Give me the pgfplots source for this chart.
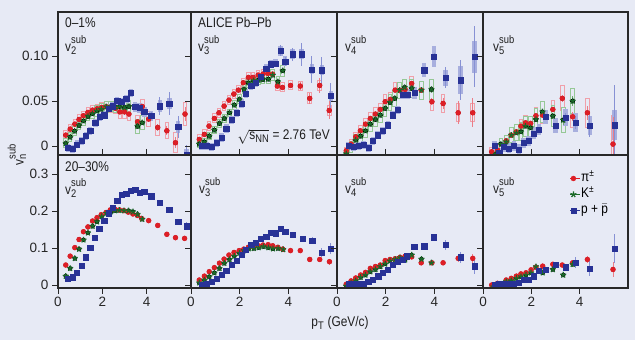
\documentclass[border=0pt]{standalone}
\usepackage{fontspec}
\setmainfont{Liberation Sans}[FakeStretch=0.85]
\newfontfamily\tickfont{Liberation Sans}
\usepackage{pgfplots}
\usepackage{pgfplotstable}
\pgfplotsset{compat=1.18}

\definecolor{bg}{RGB}{231,234,245}
\definecolor{framec}{RGB}{40,40,40}
\definecolor{pired}{RGB}{222,30,38}
\definecolor{kgreen}{RGB}{25,105,40}
\definecolor{pblue}{RGB}{40,50,150}
\definecolor{pisys}{RGB}{240,160,170}
\definecolor{ksys}{RGB}{150,200,150}
\definecolor{psys}{RGB}{168,175,222}
\definecolor{pistat}{RGB}{235,125,135}
\definecolor{kstat}{RGB}{110,170,110}
\definecolor{pstat}{RGB}{135,145,212}

% ---------- top row (0-1%) : x y stat sys ----------
\pgfplotstableread{
x y e s
0.35 0.0122 0.0005 0.003
0.55 0.0189 0.0005 0.003
0.76 0.0244 0.0005 0.003
0.95 0.0296 0.0005 0.003
1.15 0.0337 0.0005 0.003
1.35 0.0374 0.0005 0.003
1.56 0.0400 0.0005 0.003
1.76 0.0415 0.0005 0.003
1.97 0.0430 0.0005 0.003
2.18 0.0437 0.0005 0.003
2.36 0.0430 0.0005 0.004
2.59 0.0420 0.0006 0.004
2.79 0.0380 0.0008 0.005
3.00 0.0380 0.0010 0.005
3.20 0.0356 0.0012 0.005
3.59 0.0270 0.0015 0.005
3.80 0.0440 0.0020 0.006
4.09 0.0300 0.0030 0.006
4.50 0.0207 0.0040 0.007
4.91 0.0170 0.0050 0.007
5.30 0.0037 0.0060 0.009
5.73 0.0356 0.0080 0.011
}\TaPi
\pgfplotstableread{
x y e s
0.35 0.0030 0.0005 0.003
0.55 0.0100 0.0005 0.003
0.75 0.0167 0.0005 0.003
0.95 0.0230 0.0005 0.003
1.15 0.0280 0.0005 0.003
1.35 0.0330 0.0005 0.003
1.55 0.0360 0.0005 0.003
1.75 0.0390 0.0005 0.004
1.95 0.0410 0.0006 0.004
2.18 0.0437 0.0007 0.004
2.38 0.0440 0.0008 0.004
2.58 0.0437 0.0010 0.004
2.77 0.0440 0.0012 0.005
3.00 0.0430 0.0014 0.005
3.20 0.0440 0.0016 0.005
3.59 0.0220 0.0020 0.006
3.80 0.0260 0.0025 0.006
}\TaK
\pgfplotstableread{
x y e s
0.45 -0.0019 0.0005 0.002
0.65 -0.0030 0.0005 0.002
0.86 0.0019 0.0005 0.002
1.06 0.0056 0.0005 0.002
1.26 0.0115 0.0005 0.002
1.45 0.0170 0.0005 0.002
1.68 0.0259 0.0005 0.002
1.88 0.0326 0.0005 0.002
2.08 0.0344 0.0006 0.002
2.27 0.0419 0.0007 0.002
2.47 0.0444 0.0008 0.002
2.67 0.0500 0.0010 0.002
2.85 0.0489 0.0012 0.002
3.08 0.0526 0.0014 0.002
3.29 0.0593 0.0016 0.002
3.48 0.0437 0.0020 0.003
3.68 0.0426 0.0025 0.003
3.89 0.0381 0.0030 0.003
4.20 0.0337 0.0040 0.003
4.60 0.0444 0.0100 0.004
5.02 0.0474 0.0130 0.004
5.42 0.0215 0.0120 0.004
5.79 -0.0095 0.0110 0.004
}\TaP
\pgfplotstableread{
x y e s
0.34 0.0074 0.0005 0.003
0.55 0.0130 0.0005 0.003
0.74 0.0222 0.0005 0.003
0.96 0.0307 0.0005 0.003
1.15 0.0370 0.0005 0.003
1.36 0.0444 0.0005 0.003
1.56 0.0511 0.0006 0.003
1.76 0.0578 0.0006 0.003
1.95 0.0622 0.0007 0.003
2.15 0.0704 0.0008 0.003
2.36 0.0763 0.0009 0.003
2.55 0.0763 0.0010 0.003
2.76 0.0789 0.0012 0.003
2.96 0.0800 0.0014 0.003
3.16 0.0807 0.0016 0.003
3.35 0.0800 0.0018 0.003
3.55 0.0667 0.0020 0.003
3.76 0.0652 0.0025 0.003
4.09 0.0674 0.0030 0.003
4.49 0.0667 0.0040 0.003
4.88 0.0530 0.0060 0.004
5.29 0.0674 0.0080 0.004
5.68 0.0396 0.0100 0.004
}\TbPi
\pgfplotstableread{
x y e s
0.34 0.0022 0.0005 0.002
0.55 0.0048 0.0005 0.002
0.75 0.0110 0.0005 0.002
0.96 0.0178 0.0005 0.002
1.17 0.0252 0.0005 0.002
1.37 0.0307 0.0005 0.002
1.58 0.0370 0.0006 0.002
1.78 0.0456 0.0007 0.003
1.99 0.0519 0.0008 0.003
2.18 0.0630 0.0009 0.003
2.36 0.0704 0.0010 0.003
2.57 0.0726 0.0012 0.003
2.77 0.0733 0.0014 0.003
2.96 0.0741 0.0016 0.003
3.18 0.0744 0.0018 0.003
3.36 0.0789 0.0020 0.004
3.57 0.0715 0.0025 0.004
3.77 0.0837 0.0030 0.004
}\TbK
\pgfplotstableread{
x y e s
0.44 0.0004 0.0005 0.002
0.64 0.0000 0.0005 0.002
0.85 -0.0007 0.0005 0.002
1.06 0.0037 0.0005 0.002
1.26 0.0096 0.0005 0.002
1.45 0.0196 0.0005 0.002
1.66 0.0289 0.0005 0.002
1.87 0.0370 0.0006 0.002
2.07 0.0474 0.0007 0.002
2.26 0.0585 0.0008 0.002
2.47 0.0667 0.0009 0.002
2.67 0.0704 0.0010 0.002
2.88 0.0770 0.0012 0.002
3.09 0.0863 0.0014 0.002
3.29 0.0911 0.0016 0.002
3.48 0.0919 0.0018 0.002
3.69 0.1060 0.0060 0.003
3.87 0.0941 0.0050 0.003
4.17 0.1020 0.0070 0.003
4.55 0.1020 0.0130 0.003
4.97 0.0852 0.0150 0.003
5.38 0.0844 0.0150 0.003
5.75 0.0556 0.0150 0.003
}\TbP
\pgfplotstableread{
x y e s
0.38 -0.0052 0.0005 0.002
0.58 0.0022 0.0005 0.003
0.77 0.0104 0.0005 0.003
0.96 0.0170 0.0005 0.004
1.17 0.0244 0.0005 0.004
1.37 0.0307 0.0005 0.005
1.58 0.0356 0.0006 0.005
1.78 0.0407 0.0007 0.005
1.98 0.0493 0.0008 0.006
2.19 0.0519 0.0009 0.006
2.39 0.0622 0.0010 0.006
2.59 0.0615 0.0012 0.006
2.80 0.0630 0.0014 0.006
3.07 0.0696 0.0016 0.006
3.46 0.0622 0.0025 0.006
3.90 0.0493 0.0040 0.008
4.36 0.0474 0.0060 0.008
4.98 0.0370 0.0130 0.008
5.58 0.0370 0.0160 0.008
}\TcPi
\pgfplotstableread{
x y e s
0.38 -0.0085 0.0005 0.003
0.58 -0.0007 0.0005 0.004
0.77 0.0067 0.0005 0.004
0.97 0.0111 0.0005 0.005
1.17 0.0170 0.0005 0.005
1.37 0.0244 0.0006 0.006
1.58 0.0296 0.0007 0.006
1.78 0.0344 0.0008 0.006
1.98 0.0419 0.0009 0.007
2.18 0.0485 0.0010 0.007
2.37 0.0530 0.0012 0.007
2.58 0.0622 0.0014 0.007
2.78 0.0652 0.0016 0.007
3.07 0.0641 0.0020 0.008
3.47 0.0622 0.0030 0.008
3.88 0.0630 0.0040 0.009
}\TcK
\pgfplotstableread{
x y e s
0.48 0.0000 0.0005 0.002
0.69 -0.0007 0.0005 0.002
0.89 0.0000 0.0005 0.002
1.10 0.0011 0.0005 0.002
1.30 -0.0019 0.0005 0.002
1.48 0.0059 0.0005 0.002
1.67 0.0122 0.0006 0.002
1.88 0.0170 0.0007 0.002
2.09 0.0233 0.0008 0.002
2.29 0.0344 0.0009 0.002
2.48 0.0400 0.0010 0.002
2.69 0.0574 0.0012 0.003
2.89 0.0574 0.0014 0.003
3.18 0.0593 0.0020 0.004
3.58 0.0844 0.0030 0.005
3.99 0.0993 0.0040 0.009
4.46 0.0760 0.0120 0.0065
5.08 0.0733 0.0220 0.013
5.65 0.0993 0.0340 0.015
}\TcP
\pgfplotstableread{
x y e s
0.36 -0.0063 0.0005 0.003
0.60 -0.0044 0.0005 0.003
0.96 0.0059 0.0006 0.004
1.17 0.0122 0.0007 0.004
1.38 0.0159 0.0008 0.005
1.57 0.0222 0.0009 0.005
1.76 0.0259 0.0010 0.006
1.97 0.0252 0.0012 0.006
2.19 0.0337 0.0015 0.007
2.46 0.0344 0.0020 0.007
2.89 0.0407 0.0030 0.008
3.28 0.0530 0.0040 0.012
3.71 0.0326 0.0050 0.010
4.32 0.0370 0.0080 0.014
5.38 0.0022 0.0300 0.030
}\TdPi
\pgfplotstableread{
x y e s
0.54 -0.0090 0.0005 0.003
0.74 0.0022 0.0006 0.004
0.96 0.0048 0.0007 0.005
1.17 0.0122 0.0008 0.006
1.38 0.0148 0.0009 0.007
1.57 0.0159 0.0010 0.008
1.76 0.0222 0.0012 0.009
1.97 0.0204 0.0014 0.010
2.19 0.0296 0.0020 0.010
2.46 0.0381 0.0025 0.010
2.89 0.0333 0.0030 0.010
3.32 0.0289 0.0050 0.012
3.71 0.0500 0.0060 0.012
}\TdK
\pgfplotstableread{
x y e s
0.47 0.0000 0.0005 0.003
0.67 -0.0074 0.0005 0.003
0.86 -0.0007 0.0005 0.003
1.07 -0.0026 0.0005 0.003
1.28 0.0000 0.0006 0.003
1.49 -0.0037 0.0007 0.003
1.68 0.0037 0.0008 0.003
1.89 0.0059 0.0009 0.003
2.10 0.0141 0.0010 0.004
2.31 0.0185 0.0012 0.004
2.58 0.0326 0.0020 0.005
3.00 0.0226 0.0030 0.006
3.42 0.0319 0.0050 0.007
3.83 0.0259 0.0070 0.008
4.42 0.0226 0.0120 0.008
5.44 0.0233 0.0450 0.014
}\TdP

% ---------- bottom row (20-30%) : x y stat ----------
\pgfplotstableread{
x y e
0.35 0.054 0.001
0.55 0.078 0.001
0.76 0.101 0.001
0.95 0.123 0.001
1.15 0.144 0.001
1.35 0.157 0.001
1.56 0.173 0.001
1.76 0.182 0.001
1.95 0.190 0.001
2.17 0.196 0.001
2.36 0.203 0.001
2.56 0.205 0.001
2.77 0.203 0.001
2.97 0.201 0.001
3.17 0.197 0.001
3.38 0.192 0.001
3.58 0.188 0.002
3.77 0.180 0.002
4.09 0.174 0.002
4.50 0.161 0.003
4.91 0.137 0.004
5.30 0.128 0.005
5.71 0.126 0.006
}\BaPi
\pgfplotstableread{
x y e
0.35 0.024 0.001
0.55 0.045 0.001
0.76 0.072 0.001
0.95 0.097 0.001
1.15 0.122 0.001
1.35 0.141 0.001
1.56 0.159 0.001
1.76 0.171 0.001
1.97 0.185 0.001
2.18 0.194 0.001
2.38 0.198 0.001
2.58 0.201 0.002
2.77 0.202 0.002
2.98 0.201 0.002
3.18 0.201 0.002
3.38 0.198 0.002
3.59 0.191 0.003
3.80 0.178 0.003
}\BaK
\pgfplotstableread{
x y e
0.45 0.018 0.001
0.65 0.021 0.001
0.86 0.033 0.001
1.06 0.053 0.001
1.26 0.075 0.001
1.45 0.101 0.001
1.67 0.127 0.001
1.86 0.153 0.001
2.08 0.174 0.001
2.27 0.194 0.001
2.47 0.210 0.001
2.67 0.227 0.001
2.88 0.243 0.001
3.08 0.247 0.002
3.29 0.254 0.002
3.48 0.257 0.002
3.70 0.250 0.002
3.89 0.252 0.003
4.20 0.240 0.003
4.60 0.223 0.004
5.02 0.203 0.005
5.42 0.171 0.007
5.79 0.159 0.010
}\BaP
\pgfplotstableread{
x y e
0.34 0.0135 0.001
0.55 0.024 0.001
0.75 0.036 0.001
0.96 0.047 0.001
1.17 0.059 0.001
1.36 0.070 0.001
1.56 0.081 0.001
1.77 0.088 0.001
1.98 0.093 0.001
2.17 0.097 0.001
2.36 0.102 0.001
2.57 0.104 0.001
2.77 0.106 0.001
2.96 0.108 0.001
3.17 0.109 0.002
3.36 0.106 0.002
3.57 0.102 0.002
3.77 0.097 0.002
4.09 0.093 0.003
4.49 0.093 0.004
4.88 0.069 0.005
5.29 0.069 0.006
5.69 0.063 0.008
}\BbPi
\pgfplotstableread{
x y e
0.34 0.006 0.001
0.55 0.0135 0.001
0.75 0.0225 0.001
0.96 0.033 0.001
1.17 0.045 0.001
1.37 0.059 0.001
1.58 0.069 0.001
1.78 0.078 0.001
1.99 0.086 0.001
2.18 0.093 0.001
2.37 0.098 0.002
2.58 0.099 0.002
2.78 0.101 0.002
2.98 0.104 0.002
3.18 0.101 0.002
3.37 0.098 0.003
3.58 0.099 0.003
3.79 0.096 0.004
}\BbK
\pgfplotstableread{
x y e
0.44 0.000 0.001
0.64 0.002 0.001
0.85 0.009 0.001
1.06 0.018 0.001
1.26 0.027 0.001
1.45 0.039 0.001
1.66 0.054 0.001
1.87 0.066 0.001
2.07 0.081 0.001
2.26 0.095 0.001
2.47 0.108 0.001
2.67 0.115 0.002
2.88 0.126 0.002
3.09 0.131 0.002
3.29 0.141 0.002
3.48 0.140 0.003
3.69 0.152 0.003
3.87 0.144 0.004
4.17 0.137 0.005
4.58 0.126 0.007
4.98 0.120 0.010
5.38 0.087 0.012
5.75 0.099 0.015
}\BbP
\pgfplotstableread{
x y e
0.38 0.002 0.001
0.58 0.011 0.001
0.77 0.019 0.001
0.97 0.027 0.001
1.17 0.034 0.001
1.37 0.045 0.001
1.58 0.050 0.001
1.78 0.054 0.001
1.98 0.066 0.001
2.18 0.069 0.001
2.39 0.071 0.002
2.59 0.075 0.002
2.80 0.078 0.002
3.07 0.076 0.002
3.46 0.060 0.003
3.90 0.060 0.004
4.36 0.060 0.006
4.98 0.072 0.009
5.58 0.072 0.012
}\BcPi
\pgfplotstableread{
x y e
0.38 -0.003 0.001
0.58 0.0045 0.001
0.77 0.0117 0.001
0.97 0.0207 0.001
1.17 0.027 0.001
1.37 0.036 0.001
1.58 0.042 0.001
1.78 0.050 0.001
1.98 0.057 0.002
2.18 0.065 0.002
2.39 0.069 0.002
2.59 0.074 0.002
2.80 0.068 0.003
3.07 0.081 0.003
3.47 0.070 0.004
3.88 0.060 0.006
}\BcK
\pgfplotstableread{
x y e
0.48 0.002 0.001
0.69 0.002 0.001
0.89 0.002 0.001
1.10 0.0045 0.001
1.28 0.009 0.001
1.48 0.0135 0.001
1.69 0.024 0.001
1.88 0.033 0.001
2.09 0.042 0.001
2.29 0.054 0.002
2.48 0.063 0.002
2.69 0.068 0.002
2.88 0.078 0.002
3.17 0.104 0.003
3.58 0.105 0.005
3.99 0.129 0.008
4.46 0.108 0.013
5.08 0.075 0.015
5.65 0.051 0.020
}\BcP
\pgfplotstableread{
x y e
0.36 0.000 0.001
0.60 0.0045 0.001
0.96 0.0135 0.001
1.17 0.018 0.001
1.38 0.024 0.001
1.57 0.030 0.001
1.78 0.033 0.002
1.99 0.041 0.002
2.19 0.048 0.002
2.47 0.051 0.003
2.89 0.056 0.003
3.28 0.054 0.005
3.71 0.060 0.007
4.32 0.069 0.010
5.38 0.042 0.020
}\BdPi
\pgfplotstableread{
x y e
0.43 -0.0045 0.001
0.74 0.0018 0.001
0.96 0.009 0.001
1.17 0.0117 0.001
1.38 0.018 0.001
1.57 0.0225 0.002
1.78 0.027 0.002
1.99 0.033 0.002
2.19 0.0495 0.003
2.47 0.033 0.003
2.89 0.042 0.004
3.32 0.027 0.006
3.71 0.056 0.008
}\BdK
\pgfplotstableread{
x y e
0.47 0.0018 0.001
0.67 0.0045 0.001
0.86 0.0045 0.001
1.07 0.0027 0.001
1.28 0.0045 0.001
1.49 0.0063 0.001
1.68 0.0135 0.001
1.89 0.0153 0.001
2.10 0.024 0.002
2.31 0.039 0.002
2.58 0.042 0.003
3.00 0.054 0.004
3.42 0.048 0.007
3.83 0.060 0.015
4.42 0.045 0.022
5.44 0.099 0.040
}\BdP

\pgfplotsset{
  panel/.style={scale only axis, anchor=south west, xmin=0, xmax=6,
    axis on top, clip marker paths=true,
    axis line style={draw=framec, line width=1.8pt},
    tick style={draw=framec, line width=1pt}, major tick length=6pt,
    tick align=outside, ytick pos=left,
    /pgf/number format/assume math mode=true,
    tick label style={font=\tickfont\fontsize{13.5}{13.5}\selectfont, text=black!85}},
  toprow/.style={panel, height=143pt, ymin=-0.0099, ymax=0.149,
    ytick={0,0.05,0.1}, xtick=\empty},
  botrow/.style={panel, height=133pt, ymin=-0.0081, ymax=0.3514,
    ytick={0,0.1,0.2,0.3}, xtick={0,2,4}, xtick pos=both,
    xticklabels={0,2,4}},
  pimark/.style={only marks, mark=*, mark size=2.5pt, color=pired},
  kmark/.style={only marks, mark=star, mark size=3.1pt, color=kgreen,
    mark options={line width=1.2pt}},
  pmark/.style={only marks, mark=square*, mark size=2.6pt, color=pblue},
  ebar/.style={forget plot, only marks, mark=none,
    error bars/y dir=both, error bars/y explicit, error bars/error mark=none,
    error bars/error bar style={line width=1pt, draw=#1}},
  sbar/.style 2 args={forget plot, only marks, mark=none,
    error bars/y dir=both, error bars/y explicit, error bars/error mark=none,
    error bars/error bar style={line width=#1, line cap=rect, draw=#2}},
}

\newcommand{\openbox}[2]{%
  \addplot[sbar={4.6pt}{#2}] table[x=x,y=y,y error=s]{#1};
  \addplot[sbar={2.6pt}{bg}] table[x=x,y=y,y error=s]{#1};
}
\newcommand{\toppanel}[3]{%
  \openbox{#1}{pisys}
  \openbox{#2}{ksys}
  \addplot[sbar={4.6pt}{psys}] table[x=x,y=y,y error=s]{#3};
  \addplot[ebar=pistat] table[x=x,y=y,y error=e]{#1};
  \addplot[ebar=kstat] table[x=x,y=y,y error=e]{#2};
  \addplot[ebar=pstat] table[x=x,y=y,y error=e]{#3};
  \addplot[pimark] table[x=x,y=y]{#1};
  \addplot[kmark] table[x=x,y=y]{#2};
  \addplot[pmark] table[x=x,y=y]{#3};
}
\newcommand{\botpanel}[3]{%
  \addplot[ebar=pistat] table[x=x,y=y,y error=e]{#1};
  \addplot[ebar=kstat] table[x=x,y=y,y error=e]{#2};
  \addplot[ebar=pstat] table[x=x,y=y,y error=e]{#3};
  \addplot[pimark] table[x=x,y=y]{#1};
  \addplot[kmark] table[x=x,y=y]{#2};
  \addplot[pmark] table[x=x,y=y]{#3};
}
\newcommand{\sml}{\fontsize{11}{11}\selectfont}
% v with subscript #1 and superscript "sub" stacked, kept apart
\newcommand{\vn}[1]{v\rlap{\raisebox{-2.5pt}{\sml #1}}\raisebox{8pt}{\sml sub}}

\begin{document}
\begin{tikzpicture}
\fill[bg] (0pt,0pt) rectangle (635pt,340pt);
\useasboundingbox (0pt,0pt) rectangle (635pt,340pt);

% top row
\begin{axis}[toprow, at={(58pt,185pt)}, width=133pt, yticklabels={0,0.05,0.10}]
\toppanel{\TaPi}{\TaK}{\TaP}
\end{axis}
\begin{axis}[toprow, at={(191pt,185pt)}, width=146pt, yticklabels={,,,}]
\toppanel{\TbPi}{\TbK}{\TbP}
\end{axis}
\begin{axis}[toprow, at={(337pt,185pt)}, width=146pt, yticklabels={,,,}]
\toppanel{\TcPi}{\TcK}{\TcP}
\end{axis}
\begin{axis}[toprow, at={(483pt,185pt)}, width=145pt, yticklabels={,,,}]
\toppanel{\TdPi}{\TdK}{\TdP}
\end{axis}

% bottom row
\begin{axis}[botrow, at={(58pt,52pt)}, width=133pt, yticklabels={0,0.1,0.2,0.3}]
\botpanel{\BaPi}{\BaK}{\BaP}
\end{axis}
\begin{axis}[botrow, at={(191pt,52pt)}, width=146pt, yticklabels={,,,,}]
\botpanel{\BbPi}{\BbK}{\BbP}
\end{axis}
\begin{axis}[botrow, at={(337pt,52pt)}, width=146pt, yticklabels={,,,,}]
\botpanel{\BcPi}{\BcK}{\BcP}
\end{axis}
\begin{axis}[botrow, at={(483pt,52pt)}, width=145pt, yticklabels={,,,,},
  legend style={draw=none, fill=none, at={(0.6,0.885)}, anchor=north west,
    font=\fontsize{14}{14}\selectfont, row sep=0pt, inner sep=0pt,
    nodes={inner sep=1pt, anchor=west, text height=10pt, text depth=4pt}},
  legend image code/.code={\draw[#1] plot coordinates {(0pt,0pt)};
    \path (-3pt,0pt) -- (6.5pt,0pt);},
  legend cell align=left]
\botpanel{\BdPi}{\BdK}{\BdP}
\legend{π\textsuperscript{±}, K\textsuperscript{±}, p + $\bar{\mbox{p}}$}
\end{axis}

% annotations
\begin{scope}[every node/.style={font=\fontsize{14}{14}\selectfont, text=black!88, inner sep=0pt}]
\node[anchor=base west] at (65pt,312pt) {0–1\%};
\node[anchor=base west] at (198pt,312pt) {ALICE Pb–Pb};
\node[anchor=base west] at (65pt,288pt) {\vn{2}};
\node[anchor=base west] at (198pt,288pt) {\vn{3}};
\node[anchor=base west] at (345pt,288pt) {\vn{4}};
\node[anchor=base west] at (493pt,288pt) {\vn{5}};
\node[anchor=base east] at (330pt,200pt) {$\sqrt{\mbox{s}_{\mbox{\sml NN}}}$ = 2.76 TeV};
\node[anchor=base west] at (65pt,168pt) {20–30\%};
\node[anchor=base west] at (65pt,145pt) {\vn{2}};
\node[anchor=base west] at (199pt,146pt) {\vn{3}};
\node[anchor=base west] at (345pt,146pt) {\vn{4}};
\node[anchor=base west] at (493pt,146pt) {\vn{5}};
\node[rotate=90] at (17pt,185pt) {\vn{n}};
\node[anchor=base] at (340pt,13pt) {p$_{\mbox{\sml T}}$ (GeV/c)};
\end{scope}
\end{tikzpicture}
\end{document}
